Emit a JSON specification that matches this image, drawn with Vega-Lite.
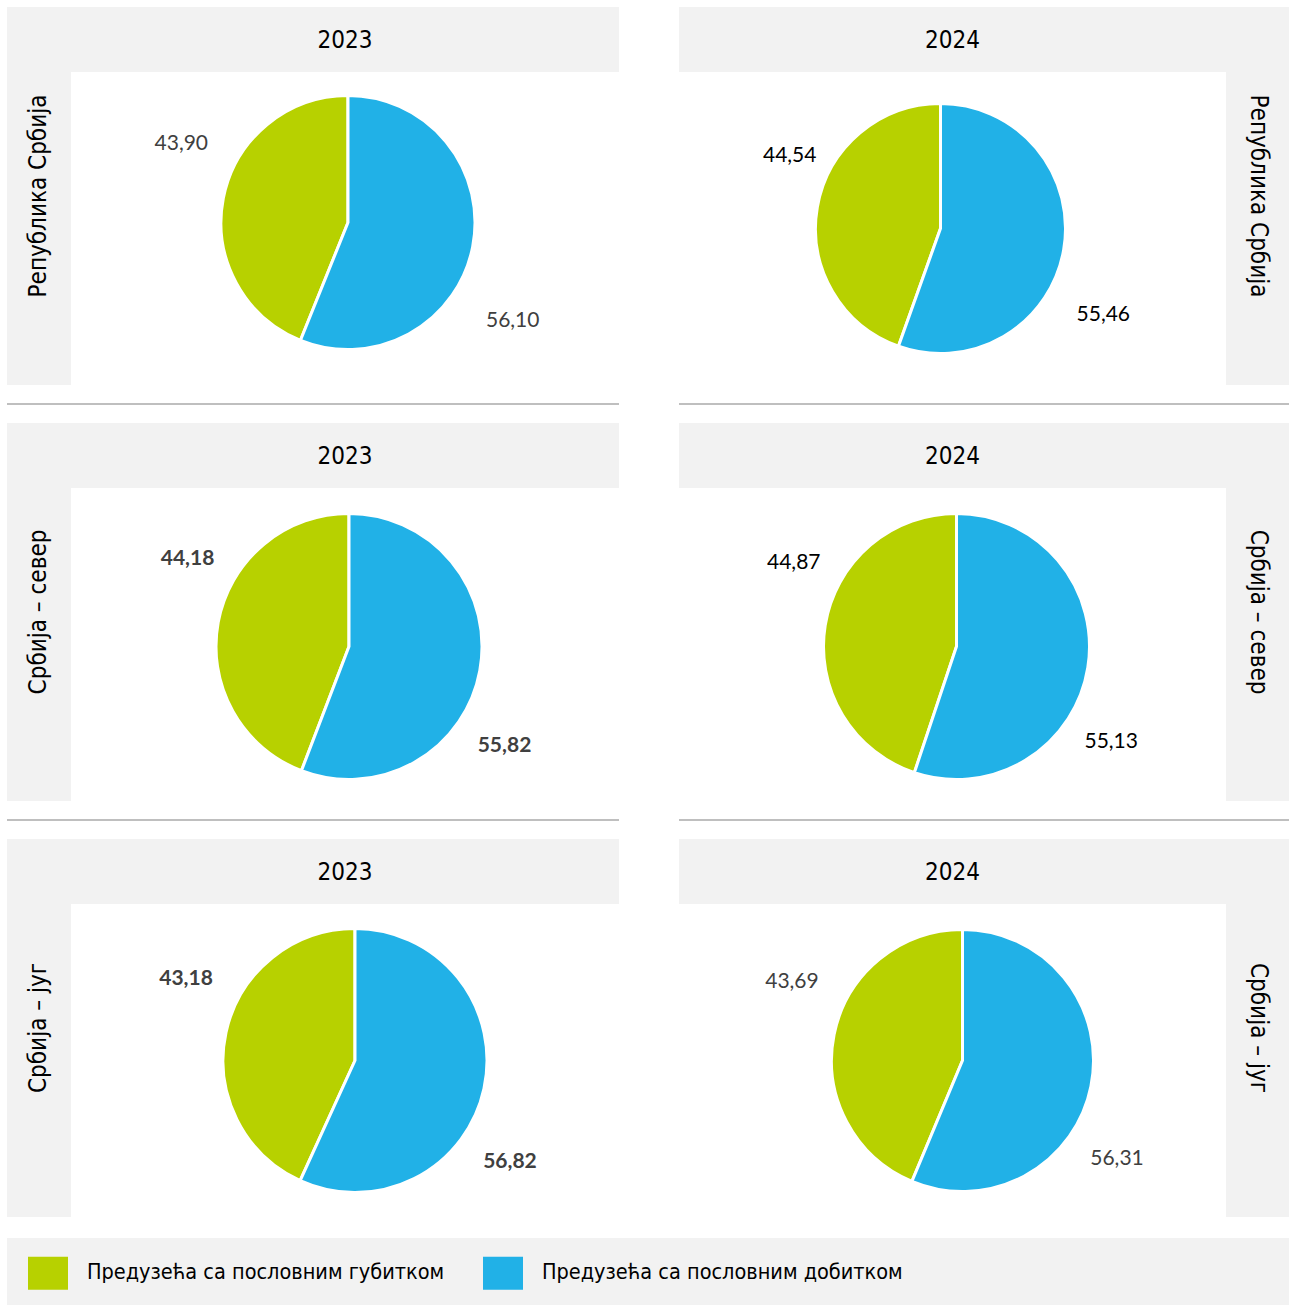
{
  "$schema": "https://vega.github.io/schema/vega-lite/v6.json",
  "background": "white",
  "padding": {"left": 7, "top": 7, "right": 0, "bottom": 0},
  "config": {
    "view": {"stroke": null},
    "locale": {"number": {"decimal": ",", "thousands": ".", "grouping": [3], "currency": ["", ""]}},
    "legend": {"padding": 0}
  },
  "data": {"values": [
    {"region": "Република Србија", "year": "2023", "category": "Предузећа са пословним губитком", "value": 43.90},
    {"region": "Република Србија", "year": "2023", "category": "Предузећа са пословним добитком", "value": 56.10},
    {"region": "Република Србија", "year": "2024", "category": "Предузећа са пословним губитком", "value": 44.54},
    {"region": "Република Србија", "year": "2024", "category": "Предузећа са пословним добитком", "value": 55.46},
    {"region": "Србија – север", "year": "2023", "category": "Предузећа са пословним губитком", "value": 44.18},
    {"region": "Србија – север", "year": "2023", "category": "Предузећа са пословним добитком", "value": 55.82},
    {"region": "Србија – север", "year": "2024", "category": "Предузећа са пословним губитком", "value": 44.87},
    {"region": "Србија – север", "year": "2024", "category": "Предузећа са пословним добитком", "value": 55.13},
    {"region": "Србија – југ", "year": "2023", "category": "Предузећа са пословним губитком", "value": 43.18},
    {"region": "Србија – југ", "year": "2023", "category": "Предузећа са пословним добитком", "value": 56.82},
    {"region": "Србија – југ", "year": "2024", "category": "Предузећа са пословним губитком", "value": 43.69},
    {"region": "Србија – југ", "year": "2024", "category": "Предузећа са пословним добитком", "value": 56.31}
  ]},
  "vconcat": [
    {
      "spacing": 18,
      "vconcat": [
        {
          "spacing": 60,
          "hconcat": [
            {"spacing": 0, "hconcat": [
              {"width": 64, "height": 378, "view": {"fill": "#f2f2f2"},
               "transform": [{"filter": "datum.region === 'Република Србија' && datum.year === '2023' && datum.category === 'Предузећа са пословним добитком'"}],
               "mark": {"type": "text", "angle": 270, "font": "DejaVu Sans Condensed, Liberation Sans", "fontSize": 24, "color": "black", "baseline": "middle", "align": "center"},
               "encoding": {"text": {"field": "region"}}},
              {"spacing": 0, "vconcat": [
                {"width": 548, "height": 65, "view": {"fill": "#f2f2f2"},
                 "transform": [{"filter": "datum.region === 'Република Србија' && datum.year === '2023' && datum.category === 'Предузећа са пословним добитком'"}],
                 "mark": {"type": "text", "font": "DejaVu Sans Condensed, Liberation Sans", "fontSize": 24, "color": "black", "baseline": "middle", "align": "center", "yOffset": 1},
                 "encoding": {"text": {"field": "year"}}},
                {"width": 548, "height": 313,
                 "transform": [{"filter": "datum.region === 'Република Србија' && datum.year === '2023'"}],
                 "encoding": {
                   "theta": {"field": "value", "type": "quantitative", "stack": true},
                   "order": {"field": "category", "sort": "descending"},
                   "color": {"field": "category", "type": "nominal",
                     "scale": {"domain": ["Предузећа са пословним губитком", "Предузећа са пословним добитком"], "range": ["#b7d100", "#21b1e7"]},
                     "legend": {"title": null, "orient": "none", "legendX": 21, "legendY": 1246, "direction": "horizontal", "symbolType": "M-1,-0.825H1V0.825H-1Z", "symbolSize": 1600, "symbolStrokeWidth": 0, "labelFont": "DejaVu Sans Condensed, Liberation Sans", "labelFontSize": 21.5, "labelColor": "black", "labelOffset": 19, "columnPadding": 38, "labelLimit": 600}}
                 },
                 "layer": [
                   {"mark": {"type": "arc", "radius": 127, "stroke": "white", "strokeWidth": 3, "xOffset": 3, "yOffset": -6}},
                   {"mark": {"type": "text", "radius": 188, "thetaOffset": 0.3, "font": "Lato", "fontSize": 21, "baseline": "middle", "align": "center", "xOffset": 2, "yOffset": 4},
                    "encoding": {"text": {"field": "value", "type": "quantitative", "format": ".2f"}, "color": {"value": "#404040"}}}
                 ]}
              ]}
            ]},
            {"spacing": 0, "hconcat": [
              {"spacing": 0, "vconcat": [
                {"width": 547, "height": 65, "view": {"fill": "#f2f2f2"},
                 "transform": [{"filter": "datum.region === 'Република Србија' && datum.year === '2024' && datum.category === 'Предузећа са пословним добитком'"}],
                 "mark": {"type": "text", "font": "DejaVu Sans Condensed, Liberation Sans", "fontSize": 24, "color": "black", "baseline": "middle", "align": "center", "yOffset": 1},
                 "encoding": {"text": {"field": "year"}}},
                {"width": 547, "height": 313,
                 "transform": [{"filter": "datum.region === 'Република Србија' && datum.year === '2024'"}],
                 "encoding": {
                   "theta": {"field": "value", "type": "quantitative", "stack": true},
                   "order": {"field": "category", "sort": "descending"},
                   "color": {"field": "category", "type": "nominal",
                     "scale": {"domain": ["Предузећа са пословним губитком", "Предузећа са пословним добитком"], "range": ["#b7d100", "#21b1e7"]},
                     "legend": {"title": null, "orient": "none", "legendX": 21, "legendY": 1246, "direction": "horizontal", "symbolType": "M-1,-0.825H1V0.825H-1Z", "symbolSize": 1600, "symbolStrokeWidth": 0, "labelFont": "DejaVu Sans Condensed, Liberation Sans", "labelFontSize": 21.5, "labelColor": "black", "labelOffset": 19, "columnPadding": 38, "labelLimit": 600}}
                 },
                 "layer": [
                   {"mark": {"type": "arc", "radius": 125, "stroke": "white", "strokeWidth": 3, "xOffset": -12, "yOffset": 0}},
                   {"mark": {"type": "text", "radius": 176, "thetaOffset": 0.3, "font": "Lato", "fontSize": 21, "baseline": "middle", "align": "center", "xOffset": -6, "yOffset": 7},
                    "encoding": {"text": {"field": "value", "type": "quantitative", "format": ".2f"}, "color": {"value": "black"}}}
                 ]}
              ]},
              {"width": 63, "height": 378, "view": {"fill": "#f2f2f2"},
               "transform": [{"filter": "datum.region === 'Република Србија' && datum.year === '2024' && datum.category === 'Предузећа са пословним добитком'"}],
               "mark": {"type": "text", "angle": 90, "font": "DejaVu Sans Condensed, Liberation Sans", "fontSize": 24, "color": "black", "baseline": "middle", "align": "center"},
               "encoding": {"text": {"field": "region"}}}
            ]}
          ]
        },
        {
          "spacing": 60,
          "hconcat": [
            {"width": 612, "height": 2, "transform": [{"filter": "datum.region === 'Република Србија' && datum.year === '2023' && datum.category === 'Предузећа са пословним добитком'"}], "mark": {"type": "rect", "color": "#bfbfbf"}, "encoding": {}},
            {"width": 610, "height": 2, "transform": [{"filter": "datum.region === 'Република Србија' && datum.year === '2024' && datum.category === 'Предузећа са пословним добитком'"}], "mark": {"type": "rect", "color": "#bfbfbf"}, "encoding": {}}
          ]
        },
        {
          "spacing": 60,
          "hconcat": [
            {"spacing": 0, "hconcat": [
              {"width": 64, "height": 378, "view": {"fill": "#f2f2f2"},
               "transform": [{"filter": "datum.region === 'Србија – север' && datum.year === '2023' && datum.category === 'Предузећа са пословним добитком'"}],
               "mark": {"type": "text", "angle": 270, "font": "DejaVu Sans Condensed, Liberation Sans", "fontSize": 24, "color": "black", "baseline": "middle", "align": "center"},
               "encoding": {"text": {"field": "region"}}},
              {"spacing": 0, "vconcat": [
                {"width": 548, "height": 65, "view": {"fill": "#f2f2f2"},
                 "transform": [{"filter": "datum.region === 'Србија – север' && datum.year === '2023' && datum.category === 'Предузећа са пословним добитком'"}],
                 "mark": {"type": "text", "font": "DejaVu Sans Condensed, Liberation Sans", "fontSize": 24, "color": "black", "baseline": "middle", "align": "center", "yOffset": 1},
                 "encoding": {"text": {"field": "year"}}},
                {"width": 548, "height": 313,
                 "transform": [{"filter": "datum.region === 'Србија – север' && datum.year === '2023'"}],
                 "encoding": {
                   "theta": {"field": "value", "type": "quantitative", "stack": true},
                   "order": {"field": "category", "sort": "descending"},
                   "color": {"field": "category", "type": "nominal",
                     "scale": {"domain": ["Предузећа са пословним губитком", "Предузећа са пословним добитком"], "range": ["#b7d100", "#21b1e7"]},
                     "legend": {"title": null, "orient": "none", "legendX": 21, "legendY": 1246, "direction": "horizontal", "symbolType": "M-1,-0.825H1V0.825H-1Z", "symbolSize": 1600, "symbolStrokeWidth": 0, "labelFont": "DejaVu Sans Condensed, Liberation Sans", "labelFontSize": 21.5, "labelColor": "black", "labelOffset": 19, "columnPadding": 38, "labelLimit": 600}}
                 },
                 "layer": [
                   {"mark": {"type": "arc", "radius": 133, "stroke": "white", "strokeWidth": 3, "xOffset": 4, "yOffset": 2}},
                   {"mark": {"type": "text", "radius": 184, "thetaOffset": 0.35, "font": "Lato", "fontSize": 21, "fontWeight": "bold", "baseline": "middle", "align": "center", "xOffset": 1, "yOffset": 8},
                    "encoding": {"text": {"field": "value", "type": "quantitative", "format": ".2f"}, "color": {"value": "#404040"}}}
                 ]}
              ]}
            ]},
            {"spacing": 0, "hconcat": [
              {"spacing": 0, "vconcat": [
                {"width": 547, "height": 65, "view": {"fill": "#f2f2f2"},
                 "transform": [{"filter": "datum.region === 'Србија – север' && datum.year === '2024' && datum.category === 'Предузећа са пословним добитком'"}],
                 "mark": {"type": "text", "font": "DejaVu Sans Condensed, Liberation Sans", "fontSize": 24, "color": "black", "baseline": "middle", "align": "center", "yOffset": 1},
                 "encoding": {"text": {"field": "year"}}},
                {"width": 547, "height": 313,
                 "transform": [{"filter": "datum.region === 'Србија – север' && datum.year === '2024'"}],
                 "encoding": {
                   "theta": {"field": "value", "type": "quantitative", "stack": true},
                   "order": {"field": "category", "sort": "descending"},
                   "color": {"field": "category", "type": "nominal",
                     "scale": {"domain": ["Предузећа са пословним губитком", "Предузећа са пословним добитком"], "range": ["#b7d100", "#21b1e7"]},
                     "legend": {"title": null, "orient": "none", "legendX": 21, "legendY": 1246, "direction": "horizontal", "symbolType": "M-1,-0.825H1V0.825H-1Z", "symbolSize": 1600, "symbolStrokeWidth": 0, "labelFont": "DejaVu Sans Condensed, Liberation Sans", "labelFontSize": 21.5, "labelColor": "black", "labelOffset": 19, "columnPadding": 38, "labelLimit": 600}}
                 },
                 "layer": [
                   {"mark": {"type": "arc", "radius": 133, "stroke": "white", "strokeWidth": 3, "xOffset": 4, "yOffset": 2}},
                   {"mark": {"type": "text", "radius": 182, "thetaOffset": 0.35, "font": "Lato", "fontSize": 21, "baseline": "middle", "align": "center", "xOffset": 0, "yOffset": 8},
                    "encoding": {"text": {"field": "value", "type": "quantitative", "format": ".2f"}, "color": {"value": "black"}}}
                 ]}
              ]},
              {"width": 63, "height": 378, "view": {"fill": "#f2f2f2"},
               "transform": [{"filter": "datum.region === 'Србија – север' && datum.year === '2024' && datum.category === 'Предузећа са пословним добитком'"}],
               "mark": {"type": "text", "angle": 90, "font": "DejaVu Sans Condensed, Liberation Sans", "fontSize": 24, "color": "black", "baseline": "middle", "align": "center"},
               "encoding": {"text": {"field": "region"}}}
            ]}
          ]
        },
        {
          "spacing": 60,
          "hconcat": [
            {"width": 612, "height": 2, "transform": [{"filter": "datum.region === 'Србија – север' && datum.year === '2023' && datum.category === 'Предузећа са пословним добитком'"}], "mark": {"type": "rect", "color": "#bfbfbf"}, "encoding": {}},
            {"width": 610, "height": 2, "transform": [{"filter": "datum.region === 'Србија – север' && datum.year === '2024' && datum.category === 'Предузећа са пословним добитком'"}], "mark": {"type": "rect", "color": "#bfbfbf"}, "encoding": {}}
          ]
        },
        {
          "spacing": 60,
          "hconcat": [
            {"spacing": 0, "hconcat": [
              {"width": 64, "height": 378, "view": {"fill": "#f2f2f2"},
               "transform": [{"filter": "datum.region === 'Србија – југ' && datum.year === '2023' && datum.category === 'Предузећа са пословним добитком'"}],
               "mark": {"type": "text", "angle": 270, "font": "DejaVu Sans Condensed, Liberation Sans", "fontSize": 24, "color": "black", "baseline": "middle", "align": "center"},
               "encoding": {"text": {"field": "region"}}},
              {"spacing": 0, "vconcat": [
                {"width": 548, "height": 65, "view": {"fill": "#f2f2f2"},
                 "transform": [{"filter": "datum.region === 'Србија – југ' && datum.year === '2023' && datum.category === 'Предузећа са пословним добитком'"}],
                 "mark": {"type": "text", "font": "DejaVu Sans Condensed, Liberation Sans", "fontSize": 24, "color": "black", "baseline": "middle", "align": "center", "yOffset": 1},
                 "encoding": {"text": {"field": "year"}}},
                {"width": 548, "height": 313,
                 "transform": [{"filter": "datum.region === 'Србија – југ' && datum.year === '2023'"}],
                 "encoding": {
                   "theta": {"field": "value", "type": "quantitative", "stack": true},
                   "order": {"field": "category", "sort": "descending"},
                   "color": {"field": "category", "type": "nominal",
                     "scale": {"domain": ["Предузећа са пословним губитком", "Предузећа са пословним добитком"], "range": ["#b7d100", "#21b1e7"]},
                     "legend": {"title": null, "orient": "none", "legendX": 21, "legendY": 1246, "direction": "horizontal", "symbolType": "M-1,-0.825H1V0.825H-1Z", "symbolSize": 1600, "symbolStrokeWidth": 0, "labelFont": "DejaVu Sans Condensed, Liberation Sans", "labelFontSize": 21.5, "labelColor": "black", "labelOffset": 19, "columnPadding": 38, "labelLimit": 600}}
                 },
                 "layer": [
                   {"mark": {"type": "arc", "radius": 132, "stroke": "white", "strokeWidth": 3, "xOffset": 10, "yOffset": 0}},
                   {"mark": {"type": "text", "radius": 186, "thetaOffset": 0.3, "font": "Lato", "fontSize": 21, "fontWeight": "bold", "baseline": "middle", "align": "center", "xOffset": 3, "yOffset": 10},
                    "encoding": {"text": {"field": "value", "type": "quantitative", "format": ".2f"}, "color": {"value": "#404040"}}}
                 ]}
              ]}
            ]},
            {"spacing": 0, "hconcat": [
              {"spacing": 0, "vconcat": [
                {"width": 547, "height": 65, "view": {"fill": "#f2f2f2"},
                 "transform": [{"filter": "datum.region === 'Србија – југ' && datum.year === '2024' && datum.category === 'Предузећа са пословним добитком'"}],
                 "mark": {"type": "text", "font": "DejaVu Sans Condensed, Liberation Sans", "fontSize": 24, "color": "black", "baseline": "middle", "align": "center", "yOffset": 1},
                 "encoding": {"text": {"field": "year"}}},
                {"width": 547, "height": 313,
                 "transform": [{"filter": "datum.region === 'Србија – југ' && datum.year === '2024'"}],
                 "encoding": {
                   "theta": {"field": "value", "type": "quantitative", "stack": true},
                   "order": {"field": "category", "sort": "descending"},
                   "color": {"field": "category", "type": "nominal",
                     "scale": {"domain": ["Предузећа са пословним губитком", "Предузећа са пословним добитком"], "range": ["#b7d100", "#21b1e7"]},
                     "legend": {"title": null, "orient": "none", "legendX": 21, "legendY": 1246, "direction": "horizontal", "symbolType": "M-1,-0.825H1V0.825H-1Z", "symbolSize": 1600, "symbolStrokeWidth": 0, "labelFont": "DejaVu Sans Condensed, Liberation Sans", "labelFontSize": 21.5, "labelColor": "black", "labelOffset": 19, "columnPadding": 38, "labelLimit": 600}}
                 },
                 "layer": [
                   {"mark": {"type": "arc", "radius": 131, "stroke": "white", "strokeWidth": 3, "xOffset": 10, "yOffset": 0}},
                   {"mark": {"type": "text", "radius": 185, "thetaOffset": 0.3, "font": "Lato", "fontSize": 21, "baseline": "middle", "align": "center", "xOffset": 2, "yOffset": 10},
                    "encoding": {"text": {"field": "value", "type": "quantitative", "format": ".2f"}, "color": {"value": "#404040"}}}
                 ]}
              ]},
              {"width": 63, "height": 378, "view": {"fill": "#f2f2f2"},
               "transform": [{"filter": "datum.region === 'Србија – југ' && datum.year === '2024' && datum.category === 'Предузећа са пословним добитком'"}],
               "mark": {"type": "text", "angle": 90, "font": "DejaVu Sans Condensed, Liberation Sans", "fontSize": 24, "color": "black", "baseline": "middle", "align": "center"},
               "encoding": {"text": {"field": "region"}}}
            ]}
          ]
        }
      ]
    },
    {"width": 1282, "height": 67,
     "transform": [{"filter": "datum.region === 'Република Србија' && datum.year === '2023' && datum.category === 'Предузећа са пословним добитком'"}],
     "mark": {"type": "rect", "color": "#f2f2f2"}, "encoding": {}}
  ],
  "spacing": 21
}
